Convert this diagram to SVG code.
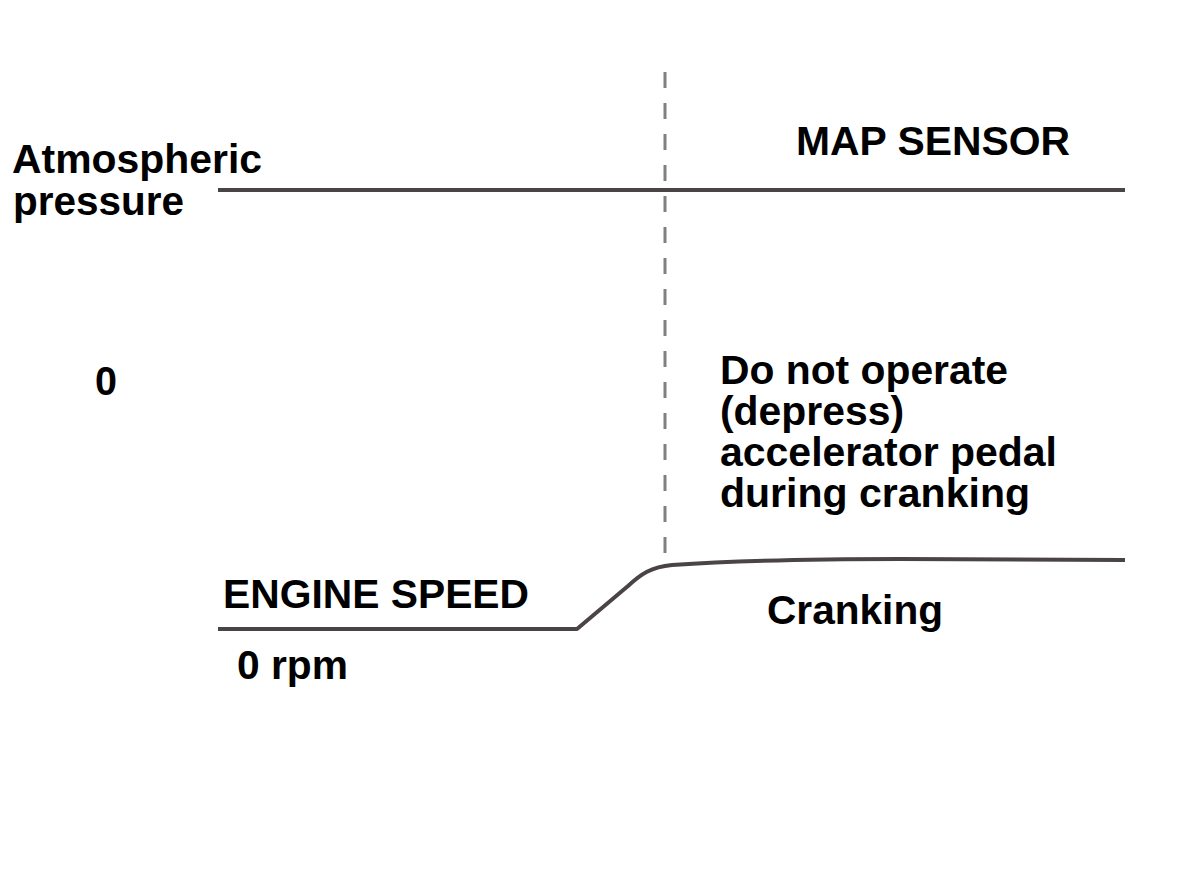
<svg xmlns="http://www.w3.org/2000/svg" width="1200" height="878" viewBox="0 0 1200 878">
  <style>
    .t { font-family: "Liberation Sans", Arial, sans-serif; font-weight: bold; font-size: 40px; fill: #000; }
    .trace { fill: none; stroke: #4a4444; stroke-width: 4; stroke-linecap: butt; stroke-linejoin: round; }
    .divider { fill: none; stroke: #808080; stroke-width: 3; stroke-dasharray: 16 15; }
  </style>
  <rect width="1200" height="878" fill="#ffffff"/>
  <g id="connectors">
    <line id="divider" class="divider" x1="665" y1="72" x2="665" y2="555"/>
    <line id="map-trace" class="trace" x1="218" y1="190" x2="1125" y2="190"/>
    <path id="engine-trace" class="trace" d="M218,629 L577,629 L628,586 C641,574 651,567 672,565 Q760,559 900,559 L1125,560"/>
  </g>
  <g id="label-atm">
    <text class="t" x="12" y="173" textLength="250" lengthAdjust="spacingAndGlyphs">Atmospheric</text>
    <text class="t" x="13" y="215" textLength="171" lengthAdjust="spacingAndGlyphs">pressure</text>
  </g>
  <g id="label-map">
    <text class="t" x="796" y="155" textLength="274" lengthAdjust="spacingAndGlyphs">MAP SENSOR</text>
  </g>
  <g id="label-zero">
    <text class="t" x="95" y="395" textLength="22" lengthAdjust="spacingAndGlyphs">0</text>
  </g>
  <g id="label-note">
    <text class="t" x="720" y="384" textLength="288" lengthAdjust="spacingAndGlyphs">Do not operate</text>
    <text class="t" x="720" y="425" textLength="184" lengthAdjust="spacingAndGlyphs">(depress)</text>
    <text class="t" x="720" y="466" textLength="337" lengthAdjust="spacingAndGlyphs">accelerator pedal</text>
    <text class="t" x="720" y="507" textLength="310" lengthAdjust="spacingAndGlyphs">during cranking</text>
  </g>
  <g id="label-engine">
    <text class="t" x="223" y="608" textLength="306" lengthAdjust="spacingAndGlyphs">ENGINE SPEED</text>
  </g>
  <g id="label-cranking">
    <text class="t" x="767" y="624" textLength="176" lengthAdjust="spacingAndGlyphs">Cranking</text>
  </g>
  <g id="label-rpm">
    <text class="t" x="237" y="679" textLength="111" lengthAdjust="spacingAndGlyphs">0 rpm</text>
  </g>
</svg>
